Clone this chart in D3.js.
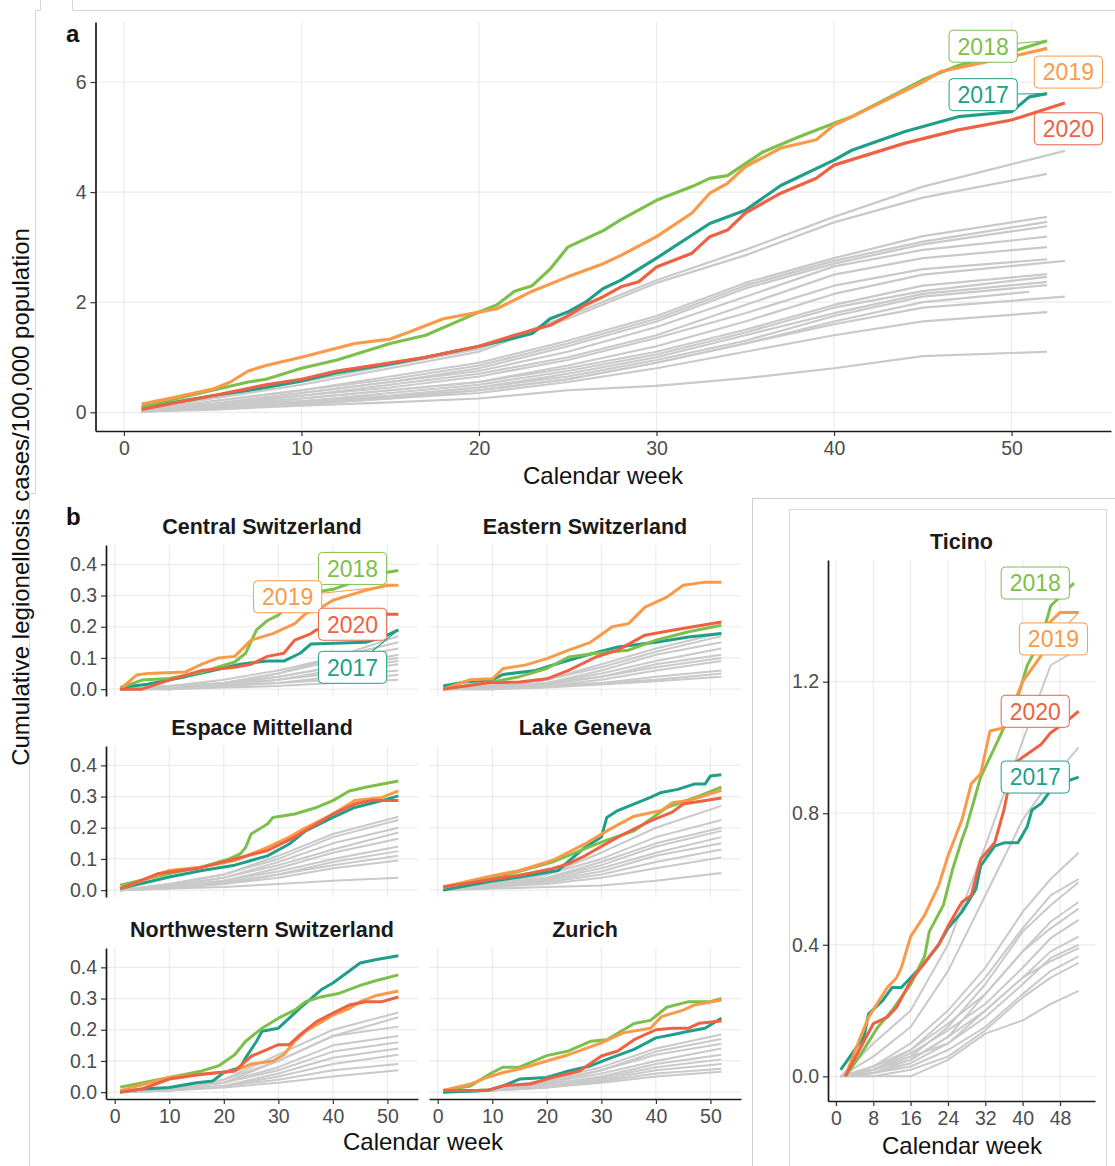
<!DOCTYPE html>
<html>
<head>
<meta charset="utf-8">
<script src="https://cdn.jsdelivr.net/npm/d3@7"></script>
<style>
  body { margin: 0; background: #fff; }
  svg text { font-family: "Liberation Sans", Arial, sans-serif; }
</style>
</head>
<body>
<svg id="chart" width="1115" height="1166"></svg>
<script>
// years highlighted in colour, all other years drawn grey
const years = ["2017", "2018", "2019", "2020"];
const yearColors = ["#1f9e89", "#7cc04b", "#fa9a48", "#ee6142"];
const greyColor = "#c9c9c9";

// ---- panel a : Switzerland ----
const mainXTicks = [0, 10, 20, 30, 40, 50];
const mainYTicks = [0, 2, 4, 6];
const main2017 = [[1,0.08],[5,0.3],[8,0.45],[10,0.57],[12,0.72],[15,0.88],[17,1.0],[20,1.2],[22,1.35],[23,1.43],[24,1.7],[25,1.82],[26,2.0],[27,2.25],[28,2.4],[30,2.8],[33,3.43],[35,3.67],[37,4.12],[40,4.58],[41,4.76],[44,5.1],[47,5.37],[50,5.46],[51,5.73],[52,5.79]];
const main2018 = [[1,0.1],[3,0.25],[5,0.4],[7,0.55],[8,0.6],[10,0.8],[12,0.95],[15,1.25],[17,1.4],[20,1.82],[21,1.95],[22,2.2],[23,2.3],[24,2.6],[25,3.0],[26,3.15],[27,3.3],[28,3.5],[30,3.85],[32,4.1],[33,4.25],[34,4.3],[36,4.73],[38,5.0],[40,5.25],[41,5.37],[43,5.7],[45,6.04],[47,6.3],[50,6.55],[52,6.75]];
const main2019 = [[1,0.15],[3,0.28],[5,0.42],[6,0.55],[7,0.75],[8,0.85],[10,1.0],[13,1.25],[15,1.33],[16,1.45],[18,1.7],[20,1.82],[21,1.88],[23,2.2],[25,2.46],[27,2.7],[28,2.85],[30,3.19],[32,3.62],[33,3.98],[34,4.16],[35,4.46],[37,4.8],[39,4.95],[40,5.22],[41,5.37],[45,6.0],[46,6.19],[50,6.46],[52,6.61]];
const main2020 = [[1,0.05],[3,0.18],[5,0.3],[8,0.5],[10,0.6],[12,0.75],[15,0.9],[17,1.0],[20,1.2],[22,1.4],[24,1.58],[25,1.75],[26,1.95],[27,2.1],[28,2.28],[29,2.37],[30,2.64],[32,2.89],[33,3.19],[34,3.31],[35,3.62],[37,3.98],[39,4.25],[40,4.49],[44,4.89],[47,5.13],[50,5.31],[53,5.62]];
const mainGreyWeeks = [1, 5, 10, 15, 20, 25, 30, 35, 40, 45, 52];
const mainGreyLastWeek = [53, 52, 52, 52, 52, 52, 52, 52, 53, 52, 52, 52, 52, 51, 53, 52, 52];
const mainGrey = [
  [0.05,0.3,0.55,0.85,1.15,1.75,2.4,2.95,3.55,4.1,4.75],
  [0.05,0.25,0.5,0.8,1.1,1.7,2.35,2.85,3.45,3.9,4.33],
  [0.03,0.2,0.4,0.65,0.9,1.3,1.75,2.35,2.8,3.2,3.55],
  [0.03,0.2,0.4,0.6,0.85,1.25,1.7,2.3,2.75,3.1,3.46],
  [0.02,0.15,0.35,0.55,0.8,1.2,1.65,2.25,2.7,3.05,3.38],
  [0.02,0.15,0.35,0.55,0.75,1.1,1.55,2.1,2.65,2.95,3.19],
  [0.02,0.15,0.3,0.5,0.7,1.0,1.4,1.95,2.5,2.8,3.0],
  [0.02,0.12,0.3,0.45,0.65,0.95,1.35,1.8,2.3,2.6,2.78],
  [0.02,0.1,0.25,0.4,0.55,0.85,1.2,1.65,2.15,2.5,2.75],
  [0.02,0.1,0.25,0.4,0.55,0.8,1.1,1.5,1.95,2.3,2.51],
  [0.01,0.1,0.2,0.35,0.5,0.75,1.05,1.45,1.9,2.2,2.46],
  [0.01,0.1,0.2,0.3,0.45,0.7,1.0,1.4,1.8,2.15,2.37],
  [0.01,0.08,0.2,0.3,0.45,0.65,0.95,1.3,1.75,2.1,2.31],
  [0.01,0.08,0.18,0.28,0.4,0.6,0.9,1.25,1.65,2.0,2.19],
  [0.01,0.08,0.15,0.25,0.4,0.6,0.9,1.25,1.6,1.9,2.1],
  [0.01,0.08,0.15,0.25,0.35,0.55,0.8,1.1,1.4,1.65,1.82],
  [0.01,0.05,0.12,0.18,0.25,0.4,0.48,0.62,0.8,1.02,1.1]
];
// label anchors [week, value] for 2017..2020
const mainLabelAt = [[48.4,5.77],[48.4,6.65],[53.2,6.18],[53.2,5.15]];

// ---- panel b : regions ----
const regionXTicks = [0, 10, 20, 30, 40, 50];
const regionYTicks = [0, 0.1, 0.2, 0.3, 0.4];
const regionGreyWeeks = [1, 10, 20, 30, 40, 52];

const central2017 = [[1,0.005],[6,0.016],[13,0.04],[18,0.06],[23,0.08],[28,0.09],[31,0.09],[34,0.115],[36,0.145],[46,0.15],[49,0.165],[52,0.19]];
const central2018 = [[1,0.005],[5,0.029],[10,0.034],[16,0.055],[22,0.087],[24,0.115],[26,0.19],[28,0.22],[30,0.237],[32,0.275],[35,0.306],[40,0.32],[45,0.35],[50,0.375],[52,0.38]];
const central2019 = [[1,0],[4,0.045],[6,0.05],[13,0.055],[16,0.08],[19,0.1],[22,0.105],[25,0.157],[29,0.178],[33,0.21],[35,0.242],[38,0.263],[40,0.285],[44,0.306],[46,0.317],[50,0.333],[52,0.333]];
const central2020 = [[1,0],[5,0],[10,0.029],[16,0.06],[22,0.07],[25,0.08],[28,0.105],[31,0.115],[33,0.157],[36,0.178],[37,0.19],[42,0.21],[46,0.225],[50,0.24],[52,0.24]];
const centralGrey = [
  [0,0.01,0.02,0.05,0.1,0.17],[0,0.01,0.03,0.06,0.1,0.15],[0,0.005,0.02,0.05,0.09,0.13],
  [0,0.01,0.02,0.04,0.07,0.11],[0,0.005,0.015,0.04,0.07,0.1],[0,0.005,0.015,0.03,0.06,0.09],
  [0,0.005,0.01,0.03,0.05,0.08],[0,0.005,0.01,0.02,0.04,0.06],[0,0,0.01,0.02,0.03,0.045],
  [0,0,0.005,0.01,0.02,0.03]
];
const centralLabelAt = [[43.6,0.07],[43.6,0.387],[31.7,0.296],[43.6,0.208]];

const eastern2017 = [[1,0.01],[5,0.023],[10,0.03],[12,0.047],[18,0.06],[22,0.082],[27,0.108],[33,0.135],[40,0.15],[46,0.167],[52,0.178]];
const eastern2018 = [[1,0],[10,0.023],[15,0.04],[20,0.066],[24,0.103],[29,0.115],[35,0.125],[40,0.157],[46,0.184],[52,0.205]];
const eastern2019 = [[1,0],[6,0.03],[10,0.033],[12,0.066],[16,0.077],[20,0.098],[24,0.125],[28,0.15],[32,0.2],[35,0.21],[38,0.263],[42,0.295],[45,0.333],[49,0.343],[52,0.343]];
const eastern2020 = [[1,0],[9,0.02],[15,0.023],[20,0.033],[24,0.06],[29,0.103],[33,0.125],[38,0.173],[43,0.189],[52,0.215]];
const easternGrey = [
  [0,0.01,0.03,0.08,0.13,0.18],[0,0.01,0.03,0.07,0.12,0.17],[0,0.01,0.02,0.06,0.11,0.15],
  [0,0.005,0.02,0.05,0.09,0.13],[0,0.005,0.02,0.04,0.08,0.11],[0,0.005,0.015,0.04,0.07,0.1],
  [0,0.005,0.01,0.03,0.06,0.09],[0,0.005,0.01,0.02,0.04,0.06],[0,0,0.01,0.02,0.03,0.05],
  [0,0,0.005,0.015,0.025,0.04]
];

const espace2017 = [[1,0.005],[10,0.042],[16,0.063],[22,0.08],[28,0.11],[32,0.148],[35,0.19],[40,0.233],[44,0.265],[49,0.287],[52,0.302]];
const espace2018 = [[1,0.016],[10,0.053],[16,0.074],[21,0.1],[23,0.116],[24,0.137],[25,0.18],[28,0.212],[29,0.233],[33,0.244],[37,0.265],[40,0.287],[43,0.318],[46,0.33],[52,0.35]];
const espace2019 = [[1,0.005],[10,0.063],[16,0.074],[22,0.095],[28,0.137],[32,0.17],[35,0.2],[40,0.244],[44,0.287],[49,0.297],[52,0.318]];
const espace2020 = [[1,0.005],[8,0.053],[15,0.069],[22,0.1],[28,0.127],[33,0.17],[37,0.212],[40,0.244],[44,0.276],[47,0.287],[52,0.287]];
const espaceGrey = [
  [0,0.02,0.05,0.11,0.18,0.235],[0,0.02,0.05,0.1,0.17,0.225],[0,0.015,0.04,0.09,0.15,0.2],
  [0,0.015,0.04,0.08,0.13,0.185],[0,0.01,0.03,0.07,0.12,0.165],[0,0.01,0.03,0.06,0.1,0.14],
  [0,0.01,0.025,0.05,0.09,0.125],[0,0.01,0.02,0.05,0.08,0.11],[0,0.005,0.02,0.04,0.07,0.095],
  [0,0.005,0.01,0.02,0.03,0.04]
];

const geneva2017 = [[1,0],[9,0.026],[15,0.042],[22,0.063],[27,0.137],[30,0.17],[31,0.233],[33,0.255],[39,0.297],[41,0.313],[44,0.323],[47,0.34],[49,0.34],[50,0.366],[52,0.37]];
const geneva2018 = [[1,0.01],[10,0.04],[15,0.06],[21,0.09],[27,0.133],[31,0.16],[36,0.19],[42,0.265],[48,0.302],[52,0.33]];
const geneva2019 = [[1,0.01],[9,0.042],[15,0.063],[21,0.095],[27,0.148],[31,0.19],[36,0.237],[41,0.255],[43,0.28],[46,0.287],[52,0.32]];
const geneva2020 = [[1,0.01],[9,0.032],[15,0.048],[21,0.069],[24,0.085],[27,0.11],[33,0.17],[39,0.222],[43,0.25],[45,0.276],[52,0.295]];
const genevaGrey = [
  [0,0.02,0.05,0.12,0.2,0.27],[0,0.02,0.05,0.1,0.17,0.225],[0,0.02,0.04,0.09,0.15,0.2],
  [0,0.015,0.04,0.08,0.14,0.19],[0,0.015,0.035,0.07,0.12,0.17],[0,0.01,0.03,0.06,0.11,0.15],
  [0,0.01,0.025,0.05,0.09,0.13],[0,0.01,0.02,0.04,0.07,0.105],[0,0.005,0.01,0.015,0.03,0.055]
];

const northwest2017 = [[1,0],[5,0.01],[10,0.015],[15,0.03],[18,0.036],[20,0.063],[23,0.078],[24,0.11],[26,0.163],[27,0.195],[30,0.205],[32,0.237],[34,0.27],[36,0.3],[38,0.33],[40,0.35],[43,0.388],[45,0.414],[48,0.425],[52,0.437]];
const northwest2018 = [[1,0.016],[10,0.047],[16,0.068],[19,0.084],[22,0.12],[24,0.163],[27,0.205],[30,0.237],[33,0.263],[35,0.29],[38,0.306],[41,0.316],[45,0.342],[48,0.358],[52,0.376]];
const northwest2019 = [[1,0.005],[10,0.047],[16,0.057],[22,0.068],[25,0.09],[29,0.1],[31,0.12],[33,0.163],[35,0.195],[38,0.226],[40,0.247],[43,0.268],[45,0.29],[48,0.31],[52,0.324]];
const northwest2020 = [[1,0],[5,0.01],[10,0.042],[16,0.057],[22,0.068],[25,0.115],[28,0.137],[30,0.152],[32,0.152],[34,0.184],[37,0.226],[40,0.253],[43,0.279],[46,0.29],[49,0.29],[52,0.305]];
const northwestGrey = [
  [0,0.01,0.04,0.12,0.2,0.255],[0,0.01,0.04,0.1,0.18,0.24],[0,0.01,0.03,0.1,0.18,0.21],
  [0,0.01,0.03,0.08,0.15,0.18],[0,0.01,0.03,0.07,0.13,0.16],[0,0.005,0.02,0.06,0.11,0.14],
  [0,0.005,0.02,0.05,0.09,0.12],[0,0.005,0.02,0.04,0.07,0.09],[0,0.005,0.015,0.03,0.05,0.07]
];

const zurich2017 = [[1,0],[9,0.005],[12,0.02],[15,0.042],[20,0.047],[24,0.068],[28,0.084],[31,0.105],[36,0.137],[40,0.174],[43,0.184],[46,0.195],[49,0.205],[52,0.237]];
const zurich2018 = [[1,0.005],[6,0.02],[10,0.063],[12,0.08],[15,0.08],[20,0.117],[24,0.132],[28,0.163],[31,0.168],[36,0.22],[39,0.23],[42,0.272],[46,0.29],[50,0.29],[52,0.3]];
const zurich2019 = [[1,0.005],[6,0.026],[9,0.047],[12,0.063],[15,0.074],[20,0.1],[24,0.12],[30,0.158],[34,0.19],[39,0.205],[41,0.242],[45,0.263],[47,0.279],[52,0.295]];
const zurich2020 = [[1,0.005],[9,0.005],[12,0.021],[17,0.026],[21,0.047],[26,0.068],[30,0.116],[33,0.132],[36,0.168],[40,0.2],[43,0.205],[46,0.205],[48,0.221],[52,0.228]];
const zurichGrey = [
  [0,0.01,0.04,0.08,0.14,0.185],[0,0.01,0.035,0.07,0.13,0.17],[0,0.01,0.03,0.07,0.12,0.155],
  [0,0.01,0.03,0.06,0.1,0.14],[0,0.01,0.025,0.05,0.09,0.12],[0,0.005,0.02,0.045,0.08,0.105],
  [0,0.005,0.02,0.04,0.07,0.09],[0,0.005,0.015,0.035,0.06,0.075],[0,0.005,0.015,0.03,0.05,0.065]
];

// ---- Ticino ----
const ticinoXTicks = [0, 8, 16, 24, 32, 40, 48];
const ticinoYTicks = [0, 0.4, 0.8, 1.2];
const ticino2017 = [[1,0.02],[3,0.06],[6,0.12],[7,0.19],[10,0.23],[12,0.27],[14,0.27],[16,0.3],[19,0.345],[22,0.4],[24,0.45],[27,0.5],[30,0.57],[31,0.64],[34,0.7],[36,0.71],[39,0.71],[41,0.76],[42,0.81],[44,0.83],[46,0.87],[50,0.9],[52,0.91]];
const ticino2018 = [[2,0],[5,0.06],[9,0.15],[12,0.2],[16,0.28],[19,0.365],[20,0.44],[23,0.52],[25,0.63],[27,0.72],[28,0.76],[31,0.91],[35,1.03],[39,1.155],[41,1.25],[44,1.33],[46,1.43],[51,1.5]];
const ticino2019 = [[2,0],[5,0.11],[7,0.18],[11,0.27],[13,0.3],[14,0.33],[16,0.425],[19,0.49],[22,0.58],[24,0.67],[27,0.78],[29,0.89],[31,0.92],[33,1.05],[36,1.06],[40,1.2],[44,1.28],[45,1.37],[48,1.41],[52,1.41]];
const ticino2020 = [[2,0],[5,0.08],[8,0.16],[11,0.18],[13,0.21],[16,0.29],[19,0.345],[22,0.4],[24,0.456],[27,0.53],[29,0.55],[31,0.66],[34,0.71],[36,0.81],[38,0.95],[41,0.98],[44,1.01],[46,1.045],[49,1.075],[52,1.11]];
const ticinoGreyWeeks = [1, 8, 16, 24, 32, 40, 46, 52];
const ticinoGrey = [
  [0,0.1,0.2,0.4,0.7,1.02,1.25,1.3],[0,0.06,0.15,0.32,0.55,0.78,0.9,1.0],
  [0,0.03,0.1,0.2,0.33,0.5,0.6,0.68],[0,0.02,0.08,0.18,0.3,0.45,0.55,0.6],
  [0,0.02,0.06,0.15,0.28,0.44,0.52,0.59],[0,0.03,0.08,0.16,0.25,0.38,0.47,0.53],
  [0,0.02,0.05,0.12,0.25,0.38,0.45,0.51],[0,0.02,0.07,0.14,0.22,0.33,0.42,0.476],
  [0,0.01,0.05,0.12,0.2,0.3,0.38,0.425],[0,0.02,0.06,0.1,0.18,0.28,0.36,0.4],
  [0,0.01,0.04,0.1,0.2,0.3,0.35,0.39],[0,0.01,0.03,0.08,0.15,0.25,0.32,0.365],
  [0,0,0.02,0.06,0.14,0.24,0.3,0.345],[0,0,0,0.05,0.13,0.17,0.22,0.26]
];
const ticinoLabelAt = [[42.7,0.91],[42.7,1.5],[46.6,1.33],[42.7,1.11]];

const svg = d3.select("#chart");
const FONT = "Liberation Sans, Arial, sans-serif";
const TICK_SIZE = 19.5;

svg.append("rect").attr("width", 1115).attr("height", 1166).attr("fill", "#fff");

// thin frame lines left over from the composed figure
svg.append("path")
  .attr("d", "M72.5,0V10.5H1115M40.5,0V10.5H35.5V493.5H29.5V1166")
  .attr("fill", "none").attr("stroke", "#d6d6d6").attr("stroke-width", 1);
svg.append("rect").attr("x", 752.5).attr("y", 498.5).attr("width", 380).attr("height", 700)
  .attr("fill", "none").attr("stroke", "#cfcfcf");
svg.append("rect").attr("x", 789.5).attr("y", 509.5).attr("width", 317).attr("height", 700)
  .attr("fill", "none").attr("stroke", "#d9d9d9");

function styleAxis(a, size) {
  a.attr("font-family", FONT).attr("font-size", size);
  a.select(".domain").attr("stroke", "#1a1a1a").attr("stroke-width", 1.7);
  a.selectAll(".tick line").attr("stroke", "#333").attr("stroke-width", 1.2);
  a.selectAll(".tick text").attr("fill", "#4d4d4d");
}

function drawPanel(cfg) {
  const x = d3.scaleLinear().domain(cfg.xDom).range([cfg.left, cfg.right]);
  const y = d3.scaleLinear().domain(cfg.yDom).range([cfg.bottom, cfg.top]);
  const g = svg.append("g");

  g.append("g").selectAll("line").data(cfg.xTicks).join("line")
    .attr("x1", d => x(d)).attr("x2", d => x(d))
    .attr("y1", cfg.top).attr("y2", cfg.bottom)
    .attr("stroke", "#ebebeb").attr("stroke-width", 1.2);
  g.append("g").selectAll("line").data(cfg.yTicks).join("line")
    .attr("x1", cfg.left).attr("x2", cfg.right)
    .attr("y1", d => y(d)).attr("y2", d => y(d))
    .attr("stroke", "#ebebeb").attr("stroke-width", 1.2);

  const line = d3.line().x(d => x(d[0])).y(d => y(d[1]));

  cfg.grey.forEach((vals, i) => {
    const pts = vals.map((v, j) => {
      const last = j === vals.length - 1 && cfg.greyLast;
      return [last ? cfg.greyLast[i] : cfg.greyWeeks[j], v];
    });
    g.append("path").attr("d", line(pts))
      .attr("fill", "none").attr("stroke", greyColor)
      .attr("stroke-width", cfg.greyW).attr("stroke-linejoin", "round");
  });

  cfg.series.forEach((pts, k) => {
    g.append("path").attr("d", line(pts))
      .attr("fill", "none").attr("stroke", yearColors[k])
      .attr("stroke-width", cfg.colW).attr("stroke-linejoin", "round");
  });

  if (cfg.showY) {
    const ay = g.append("g").attr("transform", `translate(${cfg.left},0)`)
      .call(d3.axisLeft(y).tickValues(cfg.yTicks).tickFormat(cfg.yFmt)
        .tickSize(5).tickSizeOuter(0).tickPadding(4));
    styleAxis(ay, TICK_SIZE);
  }
  if (cfg.showX) {
    const ax = g.append("g").attr("transform", `translate(0,${cfg.bottom})`)
      .call(d3.axisBottom(x).tickValues(cfg.xTicks).tickFormat(d3.format("d"))
        .tickSize(5).tickSizeOuter(0).tickPadding(5));
    styleAxis(ax, TICK_SIZE);
  }

  if (cfg.title) {
    g.append("text").attr("x", (cfg.left + cfg.right) / 2).attr("y", cfg.top - 11)
      .attr("text-anchor", "middle").attr("font-size", 21.5).attr("font-weight", "bold")
      .attr("fill", "#1a1a1a").text(cfg.title);
  }

  if (cfg.labels) {
    cfg.labels.forEach((lp, k) => {
      const cx = x(lp[0]), cy = y(lp[1]);
      const pts = cfg.series[k];
      const end = pts[pts.length - 1];
      const ex = x(end[0]), ey = y(end[1]);
      const lg = g.append("g");
      const seg = lg.append("line");
      const box = lg.append("rect");
      const t = lg.append("text").attr("x", cx).attr("y", cy).attr("dy", "0.36em")
        .attr("text-anchor", "middle").attr("font-size", 23)
        .attr("fill", yearColors[k]).text(years[k]);
      const bw = t.node().getComputedTextLength() + 17, bh = 32;
      box.attr("x", cx - bw / 2).attr("y", cy - bh / 2).attr("width", bw).attr("height", bh)
        .attr("rx", 4).attr("fill", "#fff").attr("stroke", yearColors[k]).attr("stroke-width", 1);
      const dx = ex - cx, dy = ey - cy;
      const s = Math.min(Math.abs(dx) > 0 ? (bw / 2) / Math.abs(dx) : Infinity,
                         Math.abs(dy) > 0 ? (bh / 2) / Math.abs(dy) : Infinity);
      const gap = (1 - s) * Math.hypot(dx, dy);
      if (s < 1 && gap > 13) {
        seg.attr("x1", cx + dx * s).attr("y1", cy + dy * s).attr("x2", ex).attr("y2", ey)
          .attr("stroke", yearColors[k]).attr("stroke-width", 1.1);
      } else {
        seg.remove();
      }
    });
  }
  return { x, y };
}

const fmt1 = d3.format(".1f");
const expandedWeeks = [-1.6, 55.6];
const regionYDom = [-0.022, 0.462];

// panel a
drawPanel({
  left: 95.5, right: 1111, top: 22, bottom: 431,
  xDom: expandedWeeks, yDom: [-0.34, 7.09],
  xTicks: mainXTicks, yTicks: mainYTicks, yFmt: d3.format("d"),
  showX: true, showY: true,
  grey: mainGrey, greyWeeks: mainGreyWeeks, greyLast: mainGreyLastWeek,
  series: [main2017, main2018, main2019, main2020], labels: mainLabelAt,
  greyW: 2.2, colW: 3.2
});

// panel b regions: [title, series, grey, labels, column, row]
const regions = [
  ["Central Switzerland", [central2017, central2018, central2019, central2020], centralGrey, centralLabelAt, 0, 0],
  ["Eastern Switzerland", [eastern2017, eastern2018, eastern2019, eastern2020], easternGrey, null, 1, 0],
  ["Espace Mittelland", [espace2017, espace2018, espace2019, espace2020], espaceGrey, null, 0, 1],
  ["Lake Geneva", [geneva2017, geneva2018, geneva2019, geneva2020], genevaGrey, null, 1, 1],
  ["Northwestern Switzerland", [northwest2017, northwest2018, northwest2019, northwest2020], northwestGrey, null, 0, 2],
  ["Zurich", [zurich2017, zurich2018, zurich2019, zurich2020], zurichGrey, null, 1, 2]
];
const colX = [[106, 418], [429, 741]];
const rowY = [[545, 696], [746, 897], [948, 1099]];
regions.forEach(([title, series, grey, labels, c, r]) => {
  drawPanel({
    left: colX[c][0], right: colX[c][1], top: rowY[r][0], bottom: rowY[r][1],
    xDom: expandedWeeks, yDom: regionYDom,
    xTicks: regionXTicks, yTicks: regionYTicks, yFmt: fmt1,
    showX: r === 2, showY: c === 0, title,
    grey, greyWeeks: regionGreyWeeks, series, labels,
    greyW: 2, colW: 3
  });
});

// Ticino
drawPanel({
  left: 828, right: 1095, top: 560, bottom: 1101,
  xDom: [-1.7, 55.5], yDom: [-0.075, 1.57],
  xTicks: ticinoXTicks, yTicks: ticinoYTicks, yFmt: fmt1,
  showX: true, showY: true, title: "Ticino",
  grey: ticinoGrey, greyWeeks: ticinoGreyWeeks,
  series: [ticino2017, ticino2018, ticino2019, ticino2020], labels: ticinoLabelAt,
  greyW: 2, colW: 3
});

// texts
const txt = (x, y, s, size, extra) => {
  const t = svg.append("text").attr("x", x).attr("y", y).attr("font-size", size)
    .attr("fill", "#111").text(s);
  if (extra) extra(t);
  return t;
};
txt(66, 42, "a", 24, t => t.attr("font-weight", "bold"));
txt(66, 525, "b", 24, t => t.attr("font-weight", "bold"));
txt(603, 484, "Calendar week", 24, t => t.attr("text-anchor", "middle"));
txt(423, 1150, "Calendar week", 24, t => t.attr("text-anchor", "middle"));
txt(962, 1154, "Calendar week", 24, t => t.attr("text-anchor", "middle"));
svg.append("text").attr("transform", "translate(29,497) rotate(-90)")
  .attr("text-anchor", "middle").attr("font-size", 24).attr("fill", "#111")
  .text("Cumulative legionellosis cases/100,000 population");
</script>
</body>
</html>
